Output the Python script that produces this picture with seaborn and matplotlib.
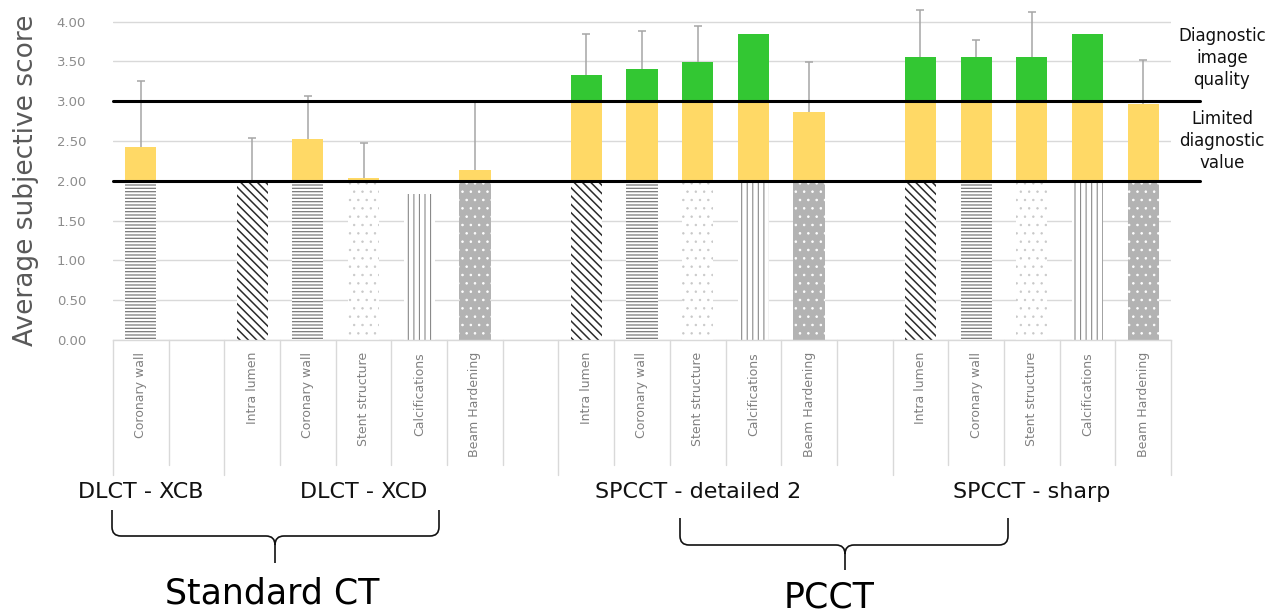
import numpy as np
import pandas as pd
import matplotlib
matplotlib.use("Agg")
import matplotlib.pyplot as plt
import seaborn as sns
from matplotlib.path import Path
from matplotlib.patches import PathPatch

# ---------------- data ----------------
scanners = ["DLCT - XCB", "DLCT - XCD", "SPCCT - detailed 2", "SPCCT - sharp"]
bar_scanner = (["DLCT - XCB"] + ["DLCT - XCD"] * 5 +
               ["SPCCT - detailed 2"] * 5 + ["SPCCT - sharp"] * 5)
bar_item = (["Coronary wall"] +
            ["Intra lumen", "Coronary wall", "Stent structure", "Calcifications", "Beam Hardening"] * 3)
scores = [2.43,
          2.00, 2.52, 2.03, 1.83, 2.14,
          3.33, 3.40, 3.49, 3.85, 2.87,
          3.56, 3.55, 3.56, 3.85, 2.96]
sd_upper = [0.82,
            0.54, 0.54, 0.44, np.nan, 0.85,
            0.52, 0.48, 0.45, np.nan, 0.62,
            0.59, 0.22, 0.56, np.nan, 0.56]
thresholds = [2.0, 3.0]
y_ticks = [0.0, 0.5, 1.0, 1.5, 2.0, 2.5, 3.0, 3.5, 4.0]
zone_labels = ["Diagnostic\nimage\nquality", "Limited\ndiagnostic\nvalue"]
systems = ["Standard CT", "PCCT"]

# ---------------- styles ----------------
YELLOW = "#FFD966"
GREEN = "#33C733"
GRID = "#d9d9d9"
BS = chr(92)
base_style = {
    "Coronary wall": dict(face="white", hatch="-----", hc="#7a7a7a", hlw=0.9),
    "Intra lumen": dict(face="white", hatch=BS * 4, hc="#2b2b2b", hlw=1.1),
    "Stent structure": dict(face="white", hatch="..", hc="#c8c8c8", hlw=0.5),
    "Calcifications": dict(face="white", hatch="|||", hc="#8a8a8a", hlw=0.8),
    "Beam Hardening": dict(face="#b3b3b3", hatch="..", hc="white", hlw=0.6),
}

W, H = 1273, 614
sns.set_style("white")
plt.rcParams["font.family"] = ["DejaVu Sans"]
plt.rcParams["hatch.linewidth"] = 0.9

# slot layout: items of each scanner, then a blank slot between scanners
pos, tick_pos, tick_lab = [], [], []
group_bounds = [-0.5]
slot = 0
for gi, sc in enumerate(scanners):
    for s, it in zip(bar_scanner, bar_item):
        if s == sc:
            pos.append(slot); tick_pos.append(slot); tick_lab.append(it); slot += 1
    if gi < len(scanners) - 1:
        tick_pos.append(slot); tick_lab.append(""); slot += 1
    group_bounds.append(slot - 0.5)

df = pd.DataFrame(dict(pos=pos, score=scores, item=bar_item, scanner=bar_scanner, sd=sd_upper))
df["green"] = np.where(df.score > 3, df.score, 0.0)
df["yellow"] = np.where(df.score > 2, np.minimum(df.score, 3), 0.0)
df["base"] = np.minimum(df.score, 2)

fig = plt.figure(figsize=(W / 100, H / 100), dpi=100)
ax_left, ax_right = 113, 1171
ax_bottom, ax_top = 340, 340 - 4.2 * 79.6
ax = fig.add_axes([ax_left / W, 1 - ax_bottom / H, (ax_right - ax_left) / W, (ax_bottom - ax_top) / H])


def layer(col, color):
    n0 = len(ax.patches)
    sns.barplot(data=df, x="pos", y=col, native_scale=True, color=color, saturation=1,
                width=0.56, errorbar=None, linewidth=0, ax=ax, zorder=2)
    return ax.patches[n0:]


layer("green", GREEN)
layer("yellow", YELLOW)
base_patches = layer("base", "white")
for p in base_patches:
    cx = p.get_x() + p.get_width() / 2
    row = df.iloc[int(np.argmin(np.abs(df.pos.values - cx)))]
    st = base_style[row["item"]]
    p.set_facecolor(st["face"])
    p.set_hatch(st["hatch"])
    p.set_edgecolor(st["hc"])
    p.set_linewidth(0)
    if hasattr(p, "set_hatch_linewidth"):
        p.set_hatch_linewidth(st["hlw"])

# error bars (upper only, cap only at the top)
m = ~df.sd.isna()
eb = ax.errorbar(df.pos[m], df.score[m], yerr=[np.zeros(m.sum()), df.sd[m]], fmt="none",
                 ecolor="#a6a6a6", elinewidth=1.1, capsize=2.6, capthick=1.1, zorder=3)
top_vals = (df.score[m] + df.sd[m]).values
for cl in eb[1]:
    yd = np.asarray(cl.get_ydata(), dtype=float)
    if not np.allclose(yd, top_vals):
        cl.set_visible(False)

# threshold lines
for t in thresholds:
    ax.axhline(t, xmin=0, xmax=(1200 - ax_left) / (ax_right - ax_left), color="black",
               lw=2.2, clip_on=False, zorder=5)

ax.set_xlim(-0.5, len(tick_pos) - 0.5)
ax.set_ylim(0, 4.2)
ax.set_yticks(y_ticks)
ax.set_yticklabels([f"{v:.2f}" for v in y_ticks])
ax.set_xticks(tick_pos)
ax.set_xticklabels(tick_lab, rotation=90, fontsize=9, color="#808080", va="top")
ax.tick_params(axis="x", length=0, pad=8.6)
ax.tick_params(axis="y", length=0, pad=19.4, labelsize=9.5, labelcolor="#8c8c8c")
ax.set_xlabel("")
ax.set_ylabel("")
ax.yaxis.grid(True, color=GRID, lw=1.0, zorder=0)
ax.xaxis.grid(False)
ax.set_axisbelow(True)
for s in ["top", "right", "left"]:
    ax.spines[s].set_visible(False)
ax.spines["bottom"].set_color(GRID)
ax.spines["bottom"].set_linewidth(1.0)

# category separators
axh = ax_bottom - ax_top
short = -(465 - ax_bottom) / axh
long_ = -(475 - ax_bottom) / axh
bounds = np.arange(-0.5, len(tick_pos), 1.0)
xt = ax.get_xaxis_transform()
for b in bounds:
    is_group = any(abs(b - g) < 1e-6 for g in group_bounds)
    ax.plot([b, b], [0, long_ if is_group else short], transform=xt, color=GRID, lw=1.0,
            clip_on=False, zorder=1)

# scanner labels
for sc in scanners:
    cx = df.pos[df.scanner == sc].mean()
    ax.text(cx, -(492 - ax_bottom) / axh, sc, transform=xt, ha="center", va="center",
            fontsize=16, color="#111111")

# zone labels
fig.text(1222 / W, 1 - 58 / H, zone_labels[0], ha="center", va="center", fontsize=12,
         linespacing=1.3, color="#111111")
fig.text(1222 / W, 1 - 141 / H, zone_labels[1], ha="center", va="center", fontsize=12,
         linespacing=1.3, color="#111111")

# y label
fig.text(26 / W, 1 - 180 / H, "Average subjective score", rotation=90, ha="center",
         va="center", fontsize=19, color="#595959")


def brace(x0, x1, xc, ytop, ymid, ybot, r=9):
    def f(x, y):
        return (x / W, 1 - y / H)
    verts = [f(x0, ytop), f(x0, ymid - r), f(x0, ymid), f(x0 + r, ymid), f(xc - r, ymid),
             f(xc, ymid), f(xc, ymid + r), f(xc, ybot),
             f(xc, ymid + r), f(xc, ymid), f(xc + r, ymid), f(x1 - r, ymid),
             f(x1, ymid), f(x1, ymid - r), f(x1, ytop)]
    codes = [Path.MOVETO, Path.LINETO, Path.CURVE3, Path.CURVE3, Path.LINETO,
             Path.CURVE3, Path.CURVE3, Path.LINETO,
             Path.MOVETO, Path.CURVE3, Path.CURVE3, Path.LINETO,
             Path.CURVE3, Path.CURVE3, Path.LINETO]
    fig.patches.append(PathPatch(Path(verts, codes), transform=fig.transFigure, fill=False,
                                 lw=1.2, edgecolor="#111111"))


brace(112, 439, 275, 510, 536, 563)
brace(680, 1008, 845, 518, 545, 570)

fig.text(272 / W, 1 - 593 / H, systems[0], ha="center", va="center", fontsize=25, color="black")
fig.text(829 / W, 1 - 598 / H, systems[1], ha="center", va="center", fontsize=25, color="black")

fig.savefig("out.png", dpi=100)
